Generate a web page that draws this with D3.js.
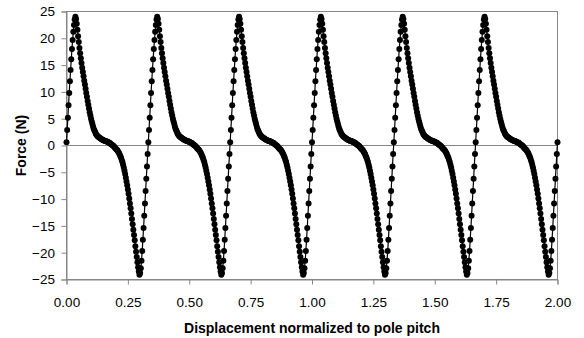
<!DOCTYPE html>
<html>
<head>
<meta charset="utf-8">
<script src="https://cdn.jsdelivr.net/npm/d3@7"></script>
<style>
  body { margin: 0; background: #fff; }
  text { font-family: "Liberation Sans", Arial, sans-serif; }
</style>
</head>
<body>
<svg id="chart" width="584" height="338"></svg>
<script>
const forcePeriod = [
  0.6, 2.9, 5.2, 7.5, 9.8, 12.0, 14.1, 16.1, 18.0, 19.7,
  21.2, 22.5, 23.5, 24.0, 23.6, 22.7, 21.6, 20.4, 19.3, 18.2,
  17.2, 16.3, 15.4, 14.5, 13.7, 12.9, 12.1, 11.4, 10.6, 9.8,
  9.1, 8.3, 7.6, 6.9, 6.2, 5.6, 5.0, 4.5, 4.0, 3.5,
  3.1, 2.8, 2.5, 2.2, 2.0, 1.8, 1.7, 1.6, 1.5, 1.4,
  1.3, 1.2, 1.1, 1.05, 1.0, 0.95, 0.9, 0.85, 0.8, 0.75,
  0.7, 0.6, 0.55, 0.5, 0.4, 0.3, 0.2, 0.1, 0.0, -0.1,
  -0.25, -0.4, -0.55, -0.7, -0.8, -1.0, -1.2, -1.4, -1.7, -2.0,
  -2.3, -2.7, -3.1, -3.6, -4.1, -4.7, -5.3, -6.0, -6.7, -7.4,
  -8.2, -9.0, -9.9, -10.8, -11.7, -12.7, -13.7, -14.7, -15.7, -16.7,
  -17.7, -18.8, -19.8, -20.8, -21.8, -22.7, -23.5, -24.1, -23.8, -22.9,
  -21.5, -19.7, -17.6, -15.4, -13.1, -10.8, -8.5, -6.2, -3.9, -1.6
];
const periodCount = 6;
const samplesPerPitch = 360;
const lastForce = 0.6; // point at 2.00

const xTicks = [0, 0.25, 0.5, 0.75, 1.0, 1.25, 1.5, 1.75, 2.0];
const yTicks = [-25, -20, -15, -10, -5, 0, 5, 10, 15, 20, 25];

const xTitle = 'Displacement normalized to pole pitch';
const yTitle = 'Force (N)';

// build the series: the same measured period repeated across 2 pole pitches
let force = [];
for (let p = 0; p < periodCount; p++) force = force.concat(forcePeriod);
force.push(lastForce);
const data = force.map((f, i) => ({ x: i / samplesPerPitch, f: f }));

const svg = d3.select('#chart');
const gray = '#868686';

const x = d3.scaleLinear().domain([0, 2]).range([66.5, 557.5]);
const y = d3.scaleLinear().domain([-25, 25]).range([279.5, 11.5]);

// plot frame
svg.append('rect')
  .attr('x', x(0)).attr('y', y(25))
  .attr('width', x(2) - x(0)).attr('height', y(-25) - y(25))
  .attr('fill', 'none').attr('stroke', gray).attr('stroke-width', 1);

// zero line
svg.append('line')
  .attr('x1', x(0)).attr('x2', x(2))
  .attr('y1', y(0)).attr('y2', y(0))
  .attr('stroke', gray).attr('stroke-width', 1);

// axes
const yAxis = d3.axisLeft(y).tickValues(yTicks).tickSize(5).tickPadding(6.5)
  .tickFormat(d3.format('d'));
svg.append('g')
  .attr('transform', `translate(${x(0)},0)`)
  .call(yAxis)
  .call(g => g.select('.domain').attr('stroke', gray))
  .call(g => g.selectAll('.tick line').attr('stroke', gray))
  .call(g => g.selectAll('.tick text')
    .attr('fill', '#000')
    .style('font-size', '13.5px')
    .style('font-family', '"Liberation Sans", Arial, sans-serif'));

const xAxis = d3.axisBottom(x).tickValues(xTicks).tickSize(5).tickPadding(13)
  .tickFormat(d3.format('.2f'));
svg.append('g')
  .attr('transform', `translate(0,${y(-25)})`)
  .call(xAxis)
  .call(g => g.select('.domain').attr('stroke', gray))
  .call(g => g.selectAll('.tick line').attr('stroke', gray))
  .call(g => g.selectAll('.tick text')
    .attr('fill', '#000')
    .style('font-size', '13.5px')
    .style('font-family', '"Liberation Sans", Arial, sans-serif'));

// series line + markers
const line = d3.line()
  .x(d => x(d.x))
  .y(d => y(d.f));

svg.append('path')
  .datum(data)
  .attr('fill', 'none')
  .attr('stroke', '#000')
  .attr('stroke-width', 1.2)
  .attr('d', line);

svg.append('g')
  .selectAll('circle')
  .data(data)
  .enter()
  .append('circle')
  .attr('cx', d => x(d.x))
  .attr('cy', d => y(d.f))
  .attr('r', 3)
  .attr('fill', '#000');

// titles
svg.append('text')
  .attr('x', (x(0) + x(2)) / 2)
  .attr('y', 333)
  .attr('text-anchor', 'middle')
  .attr('font-weight', 'bold')
  .attr('font-size', '14px')
  .text(xTitle);

svg.append('text')
  .attr('transform', `translate(25.5,${y(0)}) rotate(-90)`)
  .attr('text-anchor', 'middle')
  .attr('font-weight', 'bold')
  .attr('font-size', '14px')
  .text(yTitle);
</script>
</body>
</html>
